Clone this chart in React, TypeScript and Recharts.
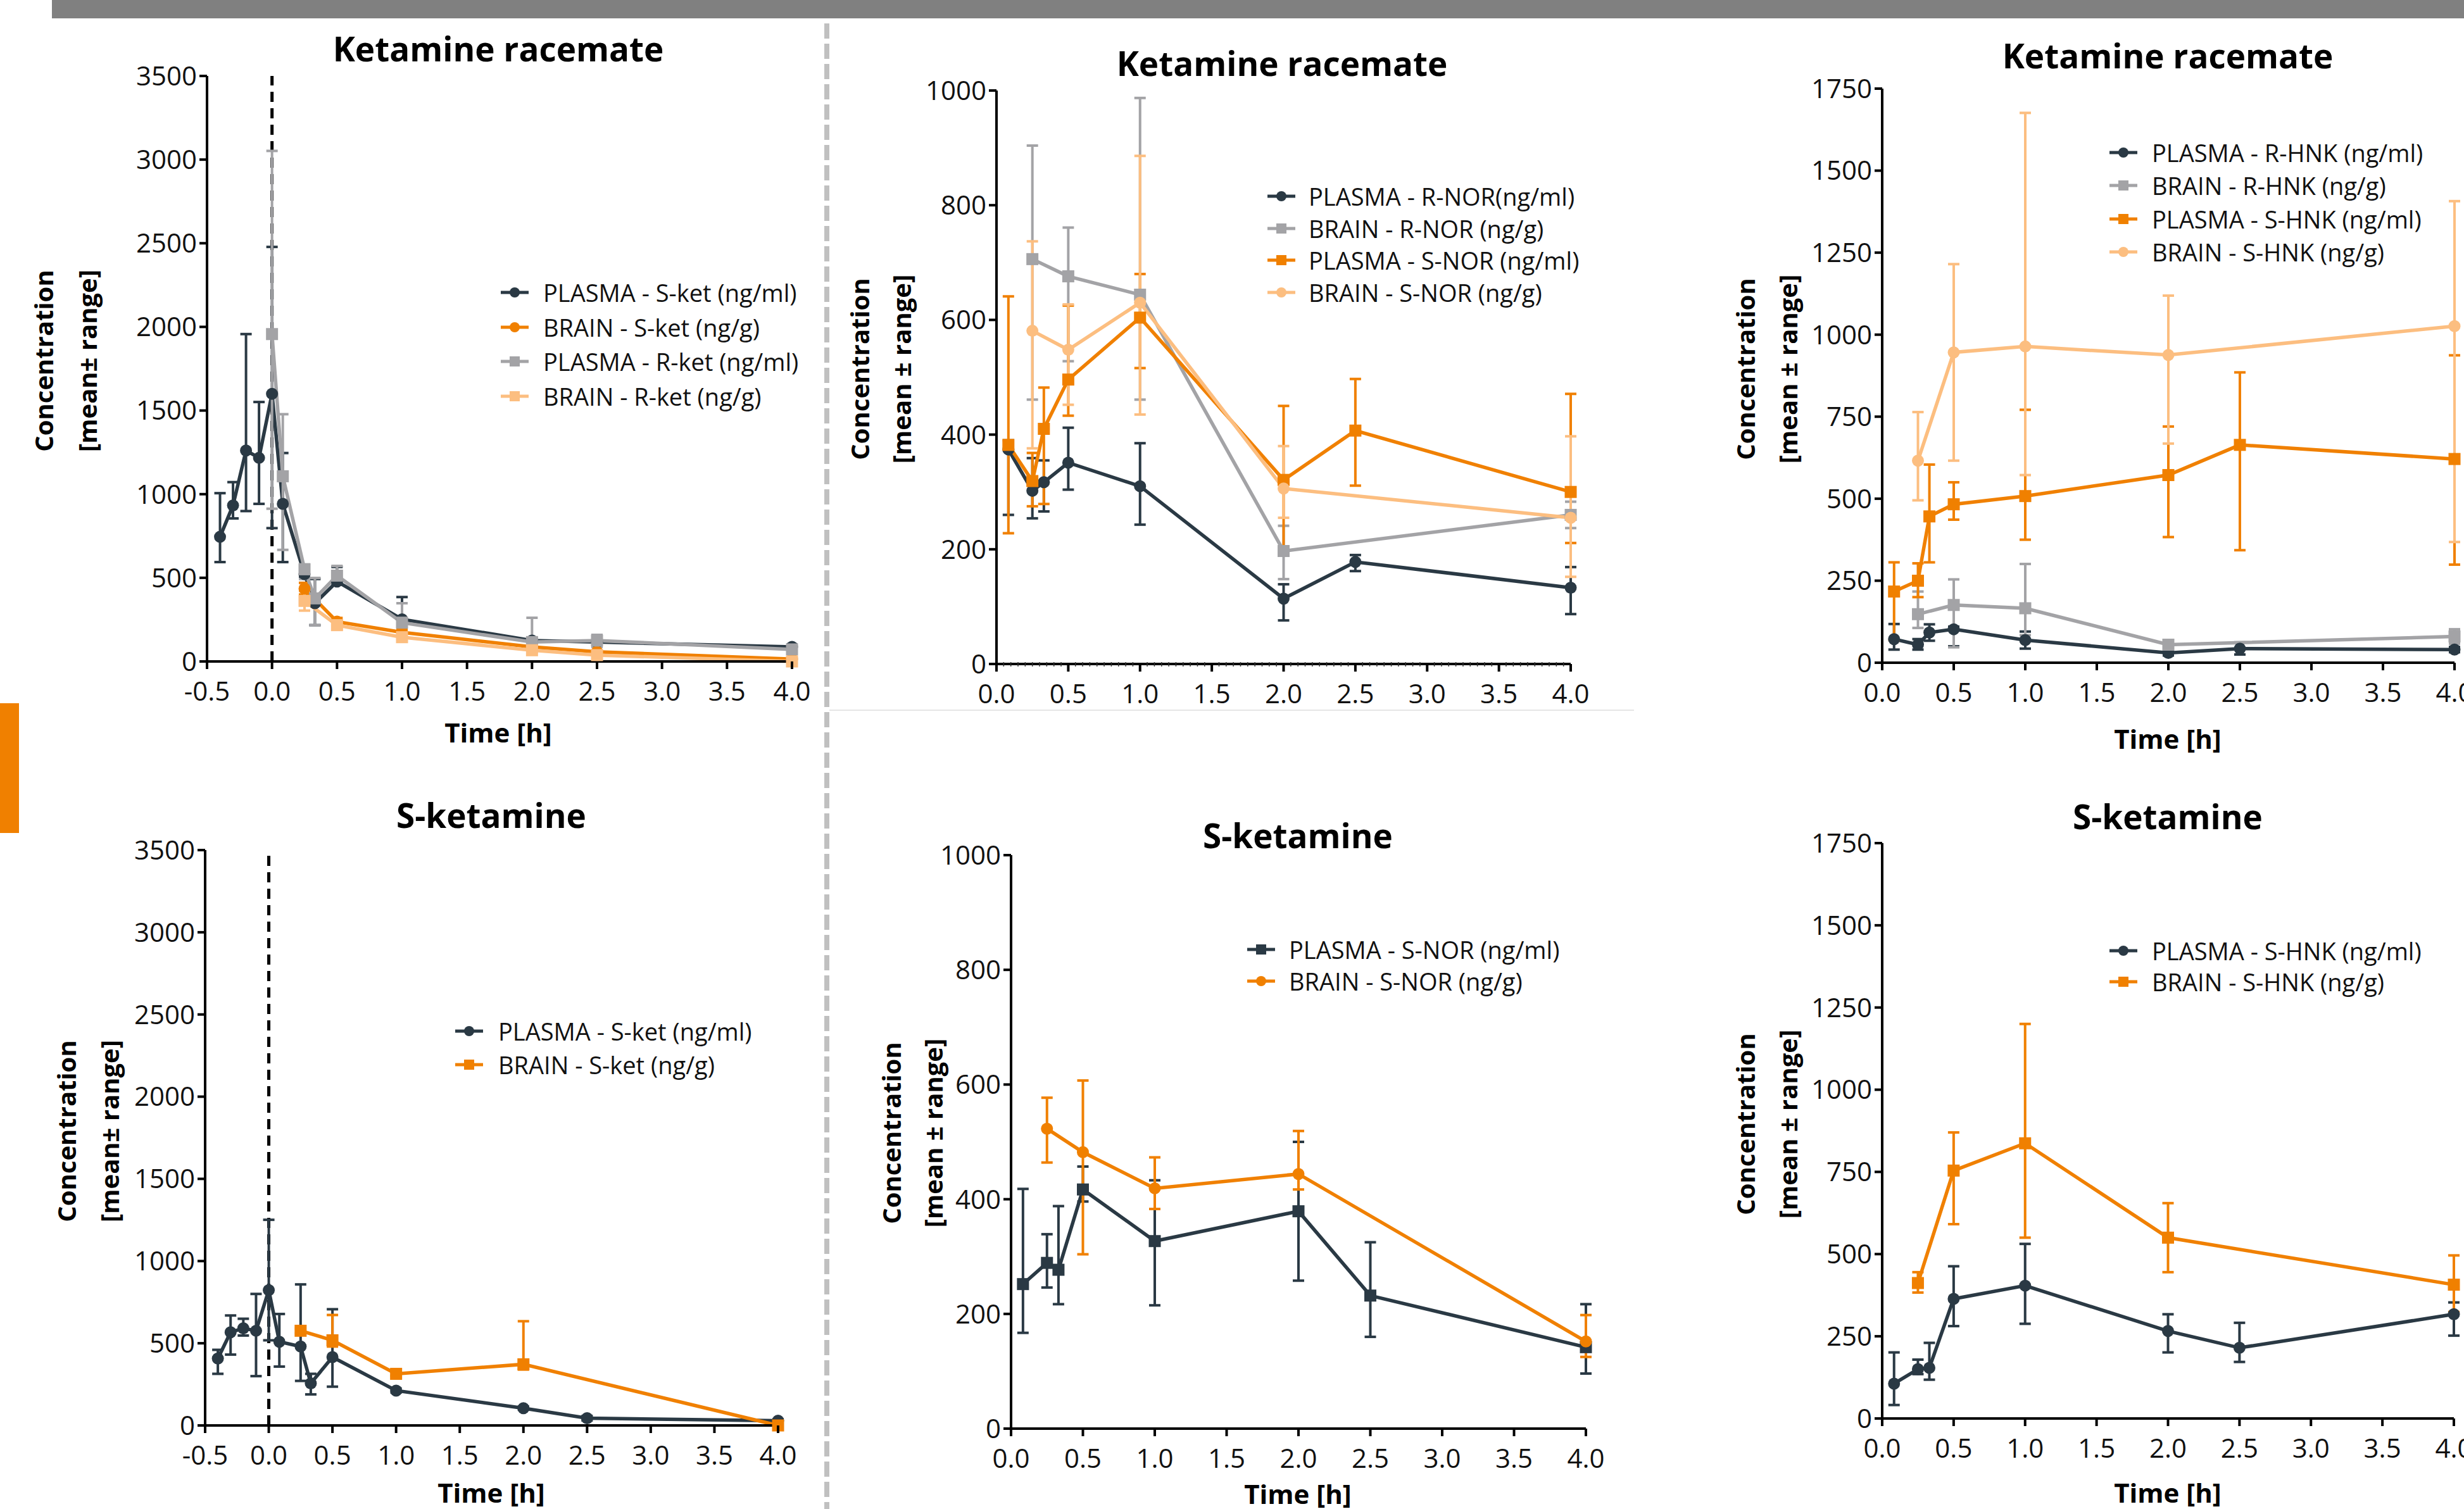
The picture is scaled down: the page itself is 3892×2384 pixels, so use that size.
import React from 'react';
import { LineChart, Line, XAxis, YAxis, ErrorBar, ReferenceLine, Legend } from 'recharts';

const DARK = '#2a3944';
const GRAY = '#a3a3a6';
const ORANGE = '#f08000';
const LIGHT = '#fcbe80';

// ---------- time points (h) ----------
const tKetPlasma = [-0.4, -0.3, -0.2, -0.1, 0, 0.083, 0.25, 0.33, 0.5, 1, 2, 2.5, 4];
const tRKetPlasma = [0, 0.083, 0.25, 0.33, 0.5, 1, 2, 2.5, 4];
const tKetBrain = [0.25, 0.5, 1, 2, 2.5, 4];
const tMetPlasma = [0.083, 0.25, 0.33, 0.5, 1, 2, 2.5, 4];
const tMetBrain = [0.25, 0.5, 1, 2, 4];

// ---------- Panel 1: Ketamine racemate, ketamine ----------
const p1PlasmaSMean = [745, 933, 1261, 1217, 1600, 942, 522, 348, 478, 252, 125, 116, 87];
const p1PlasmaSLow = [594, 855, 899, 942, 797, 594, 500, 217, 464, 188, 110, 100, 75];
const p1PlasmaSHigh = [1006, 1072, 1957, 1551, 2478, 1246, 545, 493, 565, 385, 140, 135, 100];
const p1BrainSMean = [435, 238, 174, 87, 58, 14];
const p1BrainSLow = [400, 215, 160, 75, 50, 5];
const p1BrainSHigh = [470, 260, 190, 100, 66, 20];
const p1PlasmaRMean = [1957, 1107, 551, 377, 513, 232, 116, 125, 72];
const p1PlasmaRLow = [913, 667, 493, 217, 478, 130, 58, 87, 60];
const p1PlasmaRHigh = [3052, 1478, 580, 499, 571, 348, 261, 159, 85];
const p1BrainRMean = [362, 217, 145, 67, 38, 0];
const p1BrainRLow = [304, 195, 125, 55, 30, 0];
const p1BrainRHigh = [420, 240, 165, 80, 48, 5];

// ---------- Panel 2: Ketamine racemate, NOR ----------
const p2PlasmaRMean = [374, 302, 317, 351, 310, 114, 178, 133];
const p2PlasmaRLow = [260, 254, 266, 304, 243, 76, 162, 87];
const p2PlasmaRHigh = [390, 359, 355, 412, 385, 139, 190, 169];
const p2BrainRMean = [706, 676, 644, 197, 260];
const p2BrainRLow = [461, 528, 461, 148, 237];
const p2BrainRHigh = [904, 761, 987, 241, 283];
const p2PlasmaSMean = [382, 319, 410, 496, 604, 321, 407, 300];
const p2PlasmaSLow = [228, 275, 279, 433, 516, 200, 311, 211];
const p2PlasmaSHigh = [641, 368, 482, 625, 680, 450, 497, 471];
const p2BrainSMean = [581, 548, 630, 306, 255];
const p2BrainSLow = [376, 452, 435, 255, 152];
const p2BrainSHigh = [737, 627, 886, 380, 397];

// ---------- Panel 3: Ketamine racemate, HNK ----------
const p3PlasmaRMean = [72, 55, 92, 102, 69, 30, 43, 40];
const p3PlasmaRLow = [40, 40, 67, 50, 43, 22, 25, 32];
const p3PlasmaRHigh = [118, 72, 117, 110, 95, 38, 62, 48];
const p3BrainRMean = [148, 176, 166, 55, 80];
const p3BrainRLow = [106, 47, 84, 40, 58];
const p3BrainRHigh = [217, 254, 301, 69, 102];
const p3PlasmaSMean = [217, 250, 446, 483, 508, 572, 664, 621];
const p3PlasmaSLow = [69, 200, 306, 436, 375, 383, 343, 299];
const p3PlasmaSHigh = [306, 303, 604, 550, 771, 720, 885, 937];
const p3BrainSMean = [616, 946, 964, 938, 1026];
const p3BrainSLow = [495, 616, 572, 668, 368];
const p3BrainSHigh = [764, 1215, 1676, 1119, 1407];

// ---------- Panel 4: S-ketamine, ketamine ----------
const p4BrainT = [0.25, 0.5, 1, 2, 4];
const p4PlasmaMean = [407, 567, 591, 576, 823, 509, 480, 256, 416, 212, 105, 44, 29];
const p4PlasmaLow = [314, 431, 547, 300, 518, 358, 271, 189, 236, 200, 95, 30, 20];
const p4PlasmaHigh = [460, 669, 649, 800, 1251, 678, 858, 314, 707, 225, 115, 58, 38];
const p4BrainMean = [576, 518, 314, 372, 0];
const p4BrainLow = [560, 480, 300, 340, 0];
const p4BrainHigh = [590, 672, 330, 634, 10];

// ---------- Panel 5: S-ketamine, NOR ----------
const p5PlasmaMean = [252, 289, 277, 417, 327, 379, 232, 142];
const p5PlasmaLow = [167, 246, 217, 396, 215, 258, 160, 96];
const p5PlasmaHigh = [418, 339, 388, 457, 433, 500, 325, 217];
const p5BrainMean = [523, 482, 419, 444, 152];
const p5BrainLow = [464, 304, 383, 417, 125];
const p5BrainHigh = [577, 607, 473, 519, 198];

// ---------- Panel 6: S-ketamine, HNK ----------
const p6PlasmaMean = [106, 150, 154, 364, 404, 266, 215, 317];
const p6PlasmaLow = [41, 135, 118, 281, 288, 201, 172, 252];
const p6PlasmaHigh = [201, 179, 230, 463, 531, 317, 291, 353];
const p6BrainMean = [412, 754, 837, 550, 407];
const p6BrainLow = [383, 591, 550, 445, 324];
const p6BrainHigh = [445, 870, 1200, 655, 496];

// ---------- axis ticks ----------
const xTicksNeg = [-0.5, 0, 0.5, 1, 1.5, 2, 2.5, 3, 3.5, 4];
const xTicksPos = [0, 0.5, 1, 1.5, 2, 2.5, 3, 3.5, 4];
const xTicksMinor = Array.from({ length: 81 }, (_, i) => Math.round(i * 5) / 100);
const yTicks3500 = [0, 500, 1000, 1500, 2000, 2500, 3000, 3500];
const yTicks1000 = [0, 200, 400, 600, 800, 1000];
const yTicks1750 = [0, 250, 500, 750, 1000, 1250, 1500, 1750];

type Shape = 'circle' | 'square';
interface Series {
  name: string;
  color: string;
  shape: Shape;
  t: number[];
  mean: number[];
  low: number[];
  high: number[];
}

const S = (name: string, color: string, shape: Shape, t: number[], mean: number[], low: number[], high: number[]): Series => ({
  name, color, shape, t, mean, low, high,
});

const toData = (s: Series) =>
  s.t.map((x, i) => ({ x, y: s.mean[i], err: [s.mean[i] - s.low[i], s.high[i] - s.mean[i]] }));

const FONT = '"Open Sans", "DejaVu Sans", sans-serif';
const TICK = 12;
const TMARGIN = 20;

interface PanelCfg {
  title: string;
  plot: { l: number; t: number; r: number; b: number };
  xMin: number;
  xTicks: number[];
  yMax: number;
  yTicks: number[];
  ref: boolean;
  minor: boolean;
  titlePos: [number, number];
  timePos: [number, number] | null;
  yTitleX: [number, number];
  yTitleY: number;
  yTitle2: string;
  legendRows: number[];
  legendMarkerX: number;
  legendTextX: number;
  series: Series[];
}

const panels: PanelCfg[] = [
  {
    title: 'Ketamine racemate', plot: { l: 327, t: 120, r: 1251, b: 1045 }, xMin: -0.5, xTicks: xTicksNeg,
    yMax: 3500, yTicks: yTicks3500, ref: true, minor: false, titlePos: [787, 76], timePos: [787, 1157],
    yTitleX: [69, 138], yTitleY: 570, yTitle2: '[mean\u00b1 range]', legendRows: [462, 517, 570, 626],
    legendMarkerX: 813, legendTextX: 858,
    series: [
      S('PLASMA - S-ket (ng/ml)', DARK, 'circle', tKetPlasma, p1PlasmaSMean, p1PlasmaSLow, p1PlasmaSHigh),
      S('BRAIN - S-ket (ng/g)', ORANGE, 'circle', tKetBrain, p1BrainSMean, p1BrainSLow, p1BrainSHigh),
      S('PLASMA - R-ket (ng/ml)', GRAY, 'square', tRKetPlasma, p1PlasmaRMean, p1PlasmaRLow, p1PlasmaRHigh),
      S('BRAIN - R-ket (ng/g)', LIGHT, 'square', tKetBrain, p1BrainRMean, p1BrainRLow, p1BrainRHigh),
    ],
  },
  {
    title: 'Ketamine racemate', plot: { l: 1574, t: 143, r: 2481, b: 1049 }, xMin: 0, xTicks: xTicksPos,
    yMax: 1000, yTicks: yTicks1000, ref: false, minor: true, titlePos: [2025, 99], timePos: null,
    yTitleX: [1358, 1424], yTitleY: 583, yTitle2: '[mean \u00b1 range]', legendRows: [310, 360, 411, 462],
    legendMarkerX: 2024, legendTextX: 2067,
    series: [
      S('PLASMA - R-NOR(ng/ml)', DARK, 'circle', tMetPlasma, p2PlasmaRMean, p2PlasmaRLow, p2PlasmaRHigh),
      S('BRAIN - R-NOR (ng/g)', GRAY, 'square', tMetBrain, p2BrainRMean, p2BrainRLow, p2BrainRHigh),
      S('PLASMA - S-NOR (ng/ml)', ORANGE, 'square', tMetPlasma, p2PlasmaSMean, p2PlasmaSLow, p2PlasmaSHigh),
      S('BRAIN - S-NOR (ng/g)', LIGHT, 'circle', tMetBrain, p2BrainSMean, p2BrainSLow, p2BrainSHigh),
    ],
  },
  {
    title: 'Ketamine racemate', plot: { l: 2973, t: 140, r: 3877, b: 1047 }, xMin: 0, xTicks: xTicksPos,
    yMax: 1750, yTicks: yTicks1750, ref: false, minor: false, titlePos: [3424, 87], timePos: [3424, 1167],
    yTitleX: [2757, 2824], yTitleY: 583, yTitle2: '[mean \u00b1 range]', legendRows: [241, 293, 346, 398],
    legendMarkerX: 3354, legendTextX: 3399,
    series: [
      S('PLASMA - R-HNK (ng/ml)', DARK, 'circle', tMetPlasma, p3PlasmaRMean, p3PlasmaRLow, p3PlasmaRHigh),
      S('BRAIN - R-HNK (ng/g)', GRAY, 'square', tMetBrain, p3BrainRMean, p3BrainRLow, p3BrainRHigh),
      S('PLASMA - S-HNK (ng/ml)', ORANGE, 'square', tMetPlasma, p3PlasmaSMean, p3PlasmaSLow, p3PlasmaSHigh),
      S('BRAIN - S-HNK (ng/g)', LIGHT, 'circle', tMetBrain, p3BrainSMean, p3BrainSLow, p3BrainSHigh),
    ],
  },
  {
    title: 'S-ketamine', plot: { l: 324, t: 1343, r: 1229, b: 2252 }, xMin: -0.5, xTicks: xTicksNeg,
    yMax: 3500, yTicks: yTicks3500, ref: true, minor: false, titlePos: [776, 1287], timePos: [776, 2358],
    yTitleX: [105, 173], yTitleY: 1787, yTitle2: '[mean\u00b1 range]', legendRows: [1629, 1682],
    legendMarkerX: 741, legendTextX: 787,
    series: [
      S('PLASMA - S-ket (ng/ml)', DARK, 'circle', tKetPlasma, p4PlasmaMean, p4PlasmaLow, p4PlasmaHigh),
      S('BRAIN - S-ket (ng/g)', ORANGE, 'square', p4BrainT, p4BrainMean, p4BrainLow, p4BrainHigh),
    ],
  },
  {
    title: 'S-ketamine', plot: { l: 1597, t: 1351, r: 2505, b: 2257 }, xMin: 0, xTicks: xTicksPos,
    yMax: 1000, yTicks: yTicks1000, ref: false, minor: false, titlePos: [2050, 1319], timePos: [2050, 2360],
    yTitleX: [1408, 1474], yTitleY: 1790, yTitle2: '[mean \u00b1 range]', legendRows: [1500, 1550],
    legendMarkerX: 1992, legendTextX: 2036,
    series: [
      S('PLASMA - S-NOR (ng/ml)', DARK, 'square', tMetPlasma, p5PlasmaMean, p5PlasmaLow, p5PlasmaHigh),
      S('BRAIN - S-NOR (ng/g)', ORANGE, 'circle', tMetBrain, p5BrainMean, p5BrainLow, p5BrainHigh),
    ],
  },
  {
    title: 'S-ketamine', plot: { l: 2973, t: 1332, r: 3876, b: 2241 }, xMin: 0, xTicks: xTicksPos,
    yMax: 1750, yTicks: yTicks1750, ref: false, minor: false, titlePos: [3424, 1289], timePos: [3424, 2358],
    yTitleX: [2757, 2824], yTitleY: 1776, yTitle2: '[mean \u00b1 range]', legendRows: [1502, 1551],
    legendMarkerX: 3354, legendTextX: 3399,
    series: [
      S('PLASMA - S-HNK (ng/ml)', DARK, 'circle', tMetPlasma, p6PlasmaMean, p6PlasmaLow, p6PlasmaHigh),
      S('BRAIN - S-HNK (ng/g)', ORANGE, 'square', tMetBrain, p6BrainMean, p6BrainLow, p6BrainHigh),
    ],
  },
];

const makeDot = (shape: Shape, color: string) => (p: any) => {
  const { cx, cy, index } = p;
  if (cx == null || cy == null) return <g key={`d${index}`} />;
  return shape === 'circle' ? (
    <circle key={`d${index}`} cx={cx} cy={cy} r={9.5} fill={color} />
  ) : (
    <rect key={`d${index}`} x={cx - 9.5} y={cy - 9.5} width={19} height={19} fill={color} />
  );
};

const XTick = (props: any) => {
  const { x, y, payload } = props;
  const v = payload.value as number;
  const major = Math.abs(v * 2 - Math.round(v * 2)) < 1e-6;
  const axisY = y - TICK - TMARGIN;
  return (
    <g>
      {major ? (
        <line x1={x} x2={x} y1={axisY} y2={axisY + TICK} stroke="#000" strokeWidth={4} />
      ) : (
        <line x1={x} x2={x} y1={axisY - 3} y2={axisY + 4} stroke="#333" strokeWidth={1.5} />
      )}
      {major && (
        <text x={x} y={y} dy="0.71em" textAnchor="middle" fontSize={42} fill="#111" fontFamily={FONT}>
          {v.toFixed(1)}
        </text>
      )}
    </g>
  );
};

const Marker = ({ color, shape }: { color: string; shape: Shape }) => (
  <svg width={44} height={20} style={{ display: 'block', flex: 'none' }}>
    <line x1={0} x2={44} y1={10} y2={10} stroke={color} strokeWidth={5} />
    {shape === 'circle' ? <circle cx={22} cy={10} r={8} fill={color} /> : <rect x={14} y={2} width={16} height={16} fill={color} />}
  </svg>
);

const Txt = ({ x, y, size, bold, children, rotate }: any) => (
  <div
    style={{
      position: 'absolute', left: x, top: y, whiteSpace: 'nowrap', lineHeight: 1,
      transform: `translate(-50%, -50%)${rotate ? ' rotate(-90deg)' : ''}`,
      fontFamily: FONT, fontSize: size, fontWeight: bold ? 700 : 400, color: '#000',
    }}
  >
    {children}
  </div>
);

const YW = 150;
const XH = 100;
const MT = 40;
const MR = 70;

const Panel = ({ cfg }: { cfg: PanelCfg }) => {
  const { plot } = cfg;
  const left = plot.l - YW;
  const top = plot.t - MT;
  const width = plot.r - plot.l + YW + MR;
  const height = plot.b - plot.t + MT + XH;
  const spacing = cfg.legendRows.length > 1 ? (cfg.legendRows[cfg.legendRows.length - 1] - cfg.legendRows[0]) / (cfg.legendRows.length - 1) : 50;
  const gap = cfg.legendTextX - cfg.legendMarkerX - 22;
  const legendContent = () => (
    <div>
      {cfg.series.map((s) => (
        <div key={s.name} style={{ display: 'flex', alignItems: 'center', height: spacing }}>
          <Marker color={s.color} shape={s.shape} />
          <span style={{ marginLeft: gap, fontFamily: FONT, fontSize: 38, color: '#111', whiteSpace: 'nowrap', lineHeight: 1 }}>
            {s.name}
          </span>
        </div>
      ))}
    </div>
  );
  return (
    <>
      <div style={{ position: 'absolute', left, top, width, height }}>
        <LineChart width={width} height={height} margin={{ top: MT, right: MR, left: 0, bottom: 0 }}>
          <XAxis
            type="number" dataKey="x" domain={[cfg.xMin, 4]} ticks={cfg.minor ? xTicksMinor : cfg.xTicks} interval={0}
            height={XH} tickSize={TICK} tickMargin={TMARGIN} tickLine={false} tick={<XTick />}
            axisLine={{ stroke: '#000', strokeWidth: 4 }} allowDuplicatedCategory={false}
          />
          <YAxis
            type="number" domain={[0, cfg.yMax]} ticks={cfg.yTicks} interval={0} width={YW} tickSize={TICK} tickMargin={4}
            tick={{ fontSize: 42, fill: '#111', fontFamily: FONT }}
            axisLine={{ stroke: '#000', strokeWidth: 4 }} tickLine={{ stroke: '#000', strokeWidth: 4 }}
          />
          {cfg.ref && <ReferenceLine x={0} stroke="#000" strokeWidth={5} strokeDasharray="16 10" />}
          {cfg.series.map((s) => (
            <Line
              key={s.name} name={s.name} data={toData(s)} dataKey="y" type="linear" stroke={s.color} strokeWidth={5.5}
              dot={makeDot(s.shape, s.color)} activeDot={false} isAnimationActive={false} legendType="none"
            >
              <ErrorBar dataKey="err" direction="y" width={9} strokeWidth={4} stroke={s.color} />
            </Line>
          ))}
          <Legend
            layout="vertical" align="center" verticalAlign="middle" content={legendContent}
            wrapperStyle={{ left: cfg.legendMarkerX - 22 - left, top: cfg.legendRows[0] - spacing / 2 - top, width: 'auto', height: 'auto' }}
          />
        </LineChart>
      </div>
      <Txt x={cfg.titlePos[0]} y={cfg.titlePos[1]} size={53} bold>{cfg.title}</Txt>
      {cfg.timePos && <Txt x={cfg.timePos[0]} y={cfg.timePos[1]} size={42} bold>Time [h]</Txt>}
      <Txt x={cfg.yTitleX[0]} y={cfg.yTitleY} size={40} bold rotate>Concentration</Txt>
      <Txt x={cfg.yTitleX[1]} y={cfg.yTitleY} size={40} bold rotate>{cfg.yTitle2}</Txt>
    </>
  );
};

export default function App() {
  return (
    <div style={{ position: 'absolute', left: 0, top: 0, width: 3892, height: 2384, background: '#fff', overflow: 'hidden', fontFamily: FONT }}>
      <div style={{ position: 'absolute', left: 82, top: 0, width: 3892 - 82, height: 29, background: '#808080' }} />
      <div style={{ position: 'absolute', left: 0, top: 1111, width: 30, height: 205, background: ORANGE }} />
      <svg style={{ position: 'absolute', left: 0, top: 0 }} width={3892} height={2384}>
        <line x1={1306} x2={1306} y1={37} y2={2384} stroke="#c0c0c0" strokeWidth={8} strokeDasharray="24 8" />
        <line x1={1310} x2={2581} y1={1122} y2={1122} stroke="#e6e6e6" strokeWidth={2} />
      </svg>
      {panels.map((p, i) => (
        <Panel key={i} cfg={p} />
      ))}
    </div>
  );
}
